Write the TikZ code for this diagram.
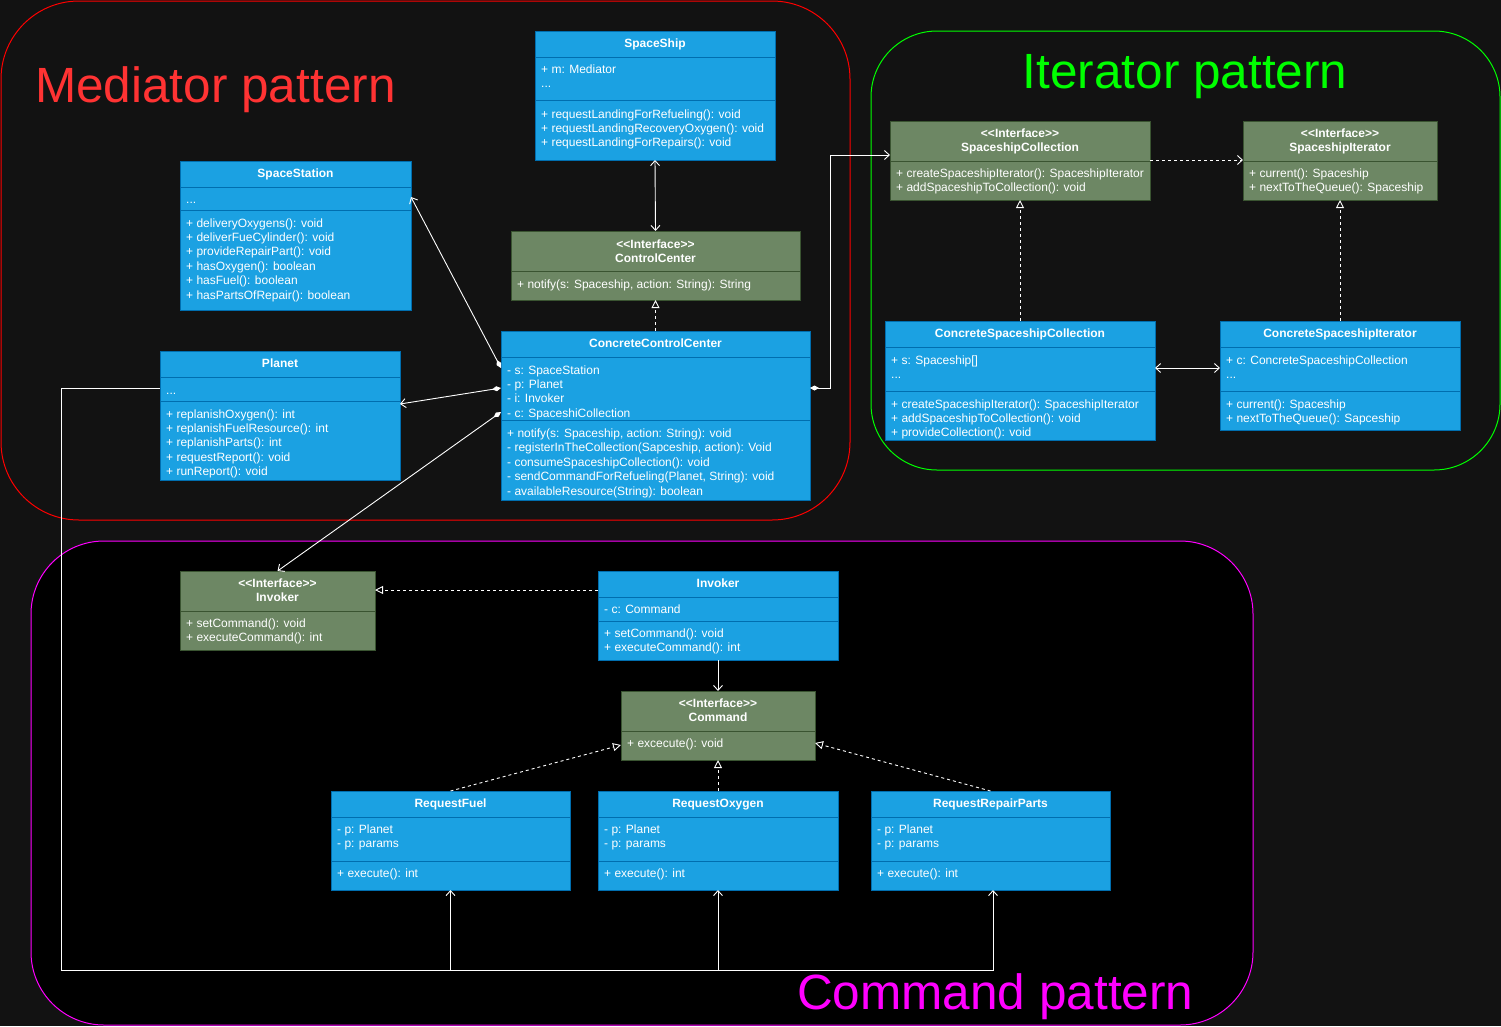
\documentclass[tikz,border=0pt]{standalone}
\usepackage{fontspec}
\setmainfont{Liberation Sans}
\usetikzlibrary{arrows.meta,calc}
\definecolor{bg}{HTML}{121212}
\definecolor{bluefill}{HTML}{1BA1E2}
\definecolor{bluedraw}{HTML}{006EAF}
\definecolor{greenfill}{HTML}{6D8764}
\definecolor{greendraw}{HTML}{3A5431}
\definecolor{medred}{HTML}{FF3333}
\definecolor{regred}{HTML}{FF0000}
\definecolor{itgreen}{HTML}{00FF00}
\definecolor{cmdmag}{HTML}{FF00FF}
\newcommand\umllines[1]{\begin{tabular}[t]{@{}l@{}}#1\end{tabular}}
\newcommand\umlcenter[1]{\begin{tabular}[t]{@{}c@{}}#1\end{tabular}}
\newcommand\umldiv[3]{\draw[#1, line width=1pt] ($(#2.north west)+(0,#3)$) -- ($(#2.north east)+(0,#3)$);}
\newcommand\stereo{{<}{<}Interface{>}{>}}
\tikzset{
  barb/.tip={Straight Barb[length=5pt,width=9pt,line width=0.9pt]},
  tri/.tip={Triangle[open,length=8pt,width=8pt,line width=0.9pt]},
  dia/.tip={Diamond[length=9pt,width=5pt]},
}
\begin{document}
\begin{tikzpicture}[x=1pt,y=-1pt,
  bluebox/.style={draw=bluedraw, fill=bluefill, line width=1pt, anchor=north west, inner sep=0, outer sep=0},
  greenbox/.style={draw=greendraw, fill=greenfill, line width=1pt, anchor=north west, inner sep=0, outer sep=0},
  hdr/.style={anchor=base, inner sep=0, text=white, font=\fontsize{12}{14.4}\selectfont\bfseries},
  body/.style={anchor=base west, inner sep=0, text=white, font=\fontsize{12}{14.4}\selectfont},
  title/.style={anchor=base west, inner sep=0, font=\fontsize{49.5}{59}\selectfont},
  conn/.style={draw=white, line width=0.9pt},
  dashline/.style={dash pattern=on 3pt off 3pt}
]
\fill[bg] (0,0) rectangle (1501,1026);
\useasboundingbox (0,0) rectangle (1501,1026);

% regions
\draw[regred, line width=1pt, rounded corners=78] (1,1) rectangle (850,520);
\draw[itgreen, line width=1pt, rounded corners=66] (871,31) rectangle (1500,470);
\draw[cmdmag, line width=1pt, fill=black, rounded corners=73] (31,541) rectangle (1253,1025);

\node[title, text=medred] (medT) at (35,102.5) {Mediator pattern};
\node[title, text=itgreen, anchor=base] (itT) at (1185,88) {Iterator pattern};
\node[title, text=cmdmag] (cmdT) at (797,1009) {Command pattern};

% SpaceShip
\node[bluebox, minimum width=240, minimum height=129] (ship) at (535,31) {};
\umldiv{bluedraw}{ship}{26}\umldiv{bluedraw}{ship}{69}
\node[hdr] (shipH) at (655,47.5) {SpaceShip};
\node[body] (shipA) at (541,73.5) {\umllines{+ m: Mediator\\...}};
\node[body] (shipM) at (541,118) {\umllines{+ requestLandingForRefueling(): void\\+ requestLandingRecoveryOxygen(): void\\+ requestLandingForRepairs(): void}};

% SpaceStation
\node[bluebox, minimum width=231, minimum height=149] (station) at (180,161) {};
\umldiv{bluedraw}{station}{26}\umldiv{bluedraw}{station}{49}
\node[hdr] (stationH) at (295.5,177.5) {SpaceStation};
\node[body] (stationA) at (186,203.5) {...};
\node[body] (stationM) at (186,227) {\umllines{+ deliveryOxygens(): void\\+ deliverFueCylinder(): void\\+ provideRepairPart(): void\\+ hasOxygen(): boolean\\+ hasFuel(): boolean\\+ hasPartsOfRepair(): boolean}};

% Planet
\node[bluebox, minimum width=240, minimum height=129] (planet) at (160,351) {};
\umldiv{bluedraw}{planet}{26}\umldiv{bluedraw}{planet}{50}
\node[hdr] (planetH) at (280,367.5) {Planet};
\node[body] (planetA) at (166,394) {...};
\node[body] (planetM) at (166,418) {\umllines{+ replanishOxygen(): int\\+ replanishFuelResource(): int\\+ replanishParts(): int\\+ requestReport(): void\\+ runReport(): void}};

% ControlCenter interface
\node[greenbox, minimum width=289, minimum height=69] (cc) at (511,231) {};
\umldiv{greendraw}{cc}{40}
\node[hdr] (ccH) at (655.5,248) {\umlcenter{\stereo\\ControlCenter}};
\node[body] (ccM) at (517,288) {+ notify(s: Spaceship, action: String): String};

% ConcreteControlCenter
\node[bluebox, minimum width=309, minimum height=169] (ccc) at (501,331) {};
\umldiv{bluedraw}{ccc}{26}\umldiv{bluedraw}{ccc}{89}
\node[hdr] (cccH) at (655.5,347.5) {ConcreteControlCenter};
\node[body] (cccA) at (507,374) {\umllines{- s: SpaceStation\\- p: Planet\\- i: Invoker\\- c: SpaceshiCollection}};
\node[body] (cccM) at (507,437.5) {\umllines{+ notify(s: Spaceship, action: String): void\\- registerInTheCollection(Sapceship, action): Void\\- consumeSpaceshipCollection(): void\\- sendCommandForRefueling(Planet, String): void\\- availableResource(String): boolean}};

% SpaceshipCollection interface
\node[greenbox, minimum width=260, minimum height=79] (scol) at (890,121) {};
\umldiv{greendraw}{scol}{40}
\node[hdr] (scolH) at (1020,137.5) {\umlcenter{\stereo\\SpaceshipCollection}};
\node[body] (scolM) at (896,177.5) {\umllines{+ createSpaceshipIterator(): SpaceshipIterator\\+ addSpaceshipToCollection(): void}};

% SpaceshipIterator interface
\node[greenbox, minimum width=194, minimum height=79] (siter) at (1243,121) {};
\umldiv{greendraw}{siter}{40}
\node[hdr] (siterH) at (1340,137.5) {\umlcenter{\stereo\\SpaceshipIterator}};
\node[body] (siterM) at (1249,177.5) {\umllines{+ current(): Spaceship\\+ nextToTheQueue(): Spaceship}};

% ConcreteSpaceshipCollection
\node[bluebox, minimum width=270, minimum height=119] (cscol) at (885,321) {};
\umldiv{bluedraw}{cscol}{26}\umldiv{bluedraw}{cscol}{70}
\node[hdr] (cscolH) at (1020,337.5) {ConcreteSpaceshipCollection};
\node[body] (cscolA) at (891,364) {\umllines{+ s: Spaceship[]\\...}};
\node[body] (cscolM) at (891,408) {\umllines{+ createSpaceshipIterator(): SpaceshipIterator\\+ addSpaceshipToCollection(): void\\+ provideCollection(): void}};

% ConcreteSpaceshipIterator
\node[bluebox, minimum width=240, minimum height=109] (csiter) at (1220,321) {};
\umldiv{bluedraw}{csiter}{26}\umldiv{bluedraw}{csiter}{70}
\node[hdr] (csiterH) at (1340,337.5) {ConcreteSpaceshipIterator};
\node[body] (csiterA) at (1226,364) {\umllines{+ c: ConcreteSpaceshipCollection\\...}};
\node[body] (csiterM) at (1226,408) {\umllines{+ current(): Spaceship\\+ nextToTheQueue(): Sapceship}};

% Interface Invoker
\node[greenbox, minimum width=195, minimum height=79] (iinv) at (180,571) {};
\umldiv{greendraw}{iinv}{40}
\node[hdr] (iinvH) at (277.5,587.5) {\umlcenter{\stereo\\Invoker}};
\node[body] (iinvM) at (186,627.5) {\umllines{+ setCommand(): void\\+ executeCommand(): int}};

% Invoker
\node[bluebox, minimum width=240, minimum height=89] (inv) at (598,571) {};
\umldiv{bluedraw}{inv}{26}\umldiv{bluedraw}{inv}{50}
\node[hdr] (invH) at (718,587.5) {Invoker};
\node[body] (invA) at (604,613.5) {- c: Command};
\node[body] (invM) at (604,637.5) {\umllines{+ setCommand(): void\\+ executeCommand(): int}};

% Command interface
\node[greenbox, minimum width=194, minimum height=69] (cmd) at (621,691) {};
\umldiv{greendraw}{cmd}{40}
\node[hdr] (cmdH) at (718,707.5) {\umlcenter{\stereo\\Command}};
\node[body] (cmdM) at (627,747.5) {+ excecute(): void};

% Requests
\node[bluebox, minimum width=239, minimum height=99] (rfuel) at (331,791) {};
\umldiv{bluedraw}{rfuel}{26}\umldiv{bluedraw}{rfuel}{70}
\node[hdr] (rfuelH) at (450.5,807.5) {RequestFuel};
\node[body] (rfuelA) at (337,833.5) {\umllines{- p: Planet\\- p: params}};
\node[body] (rfuelM) at (337,877.5) {+ execute(): int};

\node[bluebox, minimum width=240, minimum height=99] (roxy) at (598,791) {};
\umldiv{bluedraw}{roxy}{26}\umldiv{bluedraw}{roxy}{70}
\node[hdr] (roxyH) at (718,807.5) {RequestOxygen};
\node[body] (roxyA) at (604,833.5) {\umllines{- p: Planet\\- p: params}};
\node[body] (roxyM) at (604,877.5) {+ execute(): int};

\node[bluebox, minimum width=239, minimum height=99] (rrep) at (871,791) {};
\umldiv{bluedraw}{rrep}{26}\umldiv{bluedraw}{rrep}{70}
\node[hdr] (rrepH) at (990.5,807.5) {RequestRepairParts};
\node[body] (rrepA) at (877,833.5) {\umllines{- p: Planet\\- p: params}};
\node[body] (rrepM) at (877,877.5) {+ execute(): int};

% connectors
\draw[conn, barb-barb] (ship.south) -- (cc.north);
\draw[conn, dashline, -tri] (ccc.north) -- (cc.south);
\draw[conn, dia-barb] ($(ccc.north west)+(0,37)$) -- ($(station.north east)+(0,36)$);
\draw[conn, dia-barb] ($(ccc.north west)+(0,57)$) -- ($(planet.north east)+(0,53)$);
\draw[conn, dia-barb] ($(ccc.north west)+(0,81)$) -- (iinv.north);
\draw[conn, dia-barb] ($(ccc.north east)+(0,57)$) -- ++(20,0) |- ($(scol.north west)+(0,34)$);
\draw[conn, dashline, -barb] ($(scol.north east)+(0,39)$) -- ($(siter.north west)+(0,39)$);
\draw[conn, dashline, -tri] (cscol.north) -- (scol.south);
\draw[conn, dashline, -tri] (csiter.north) -- (siter.south);
\draw[conn, barb-barb] ($(cscol.north east)+(0,47)$) -- ($(csiter.north west)+(0,47)$);
\draw[conn, dashline, -tri] ($(inv.north west)+(0,19)$) -- ($(iinv.north east)+(0,19)$);
\draw[conn, -barb] (inv.south) -- (cmd.north);
\draw[conn, dashline, -tri] (rfuel.north) -- ($(cmd.north west)+(0,54)$);
\draw[conn, dashline, -tri] (roxy.north) -- (cmd.south);
\draw[conn, dashline, -tri] (rrep.north) -- ($(cmd.north east)+(0,52)$);
\coordinate (busL) at (61,970);
\draw[conn, -barb] ($(planet.north west)+(0,37)$) -| (busL) -| ($(rrep.south)+(2.5,0)$);
\draw[conn, -barb] (rfuel.south |- busL) -- (rfuel.south);
\draw[conn, -barb] (roxy.south |- busL) -- (roxy.south);
\end{tikzpicture}
\end{document}
